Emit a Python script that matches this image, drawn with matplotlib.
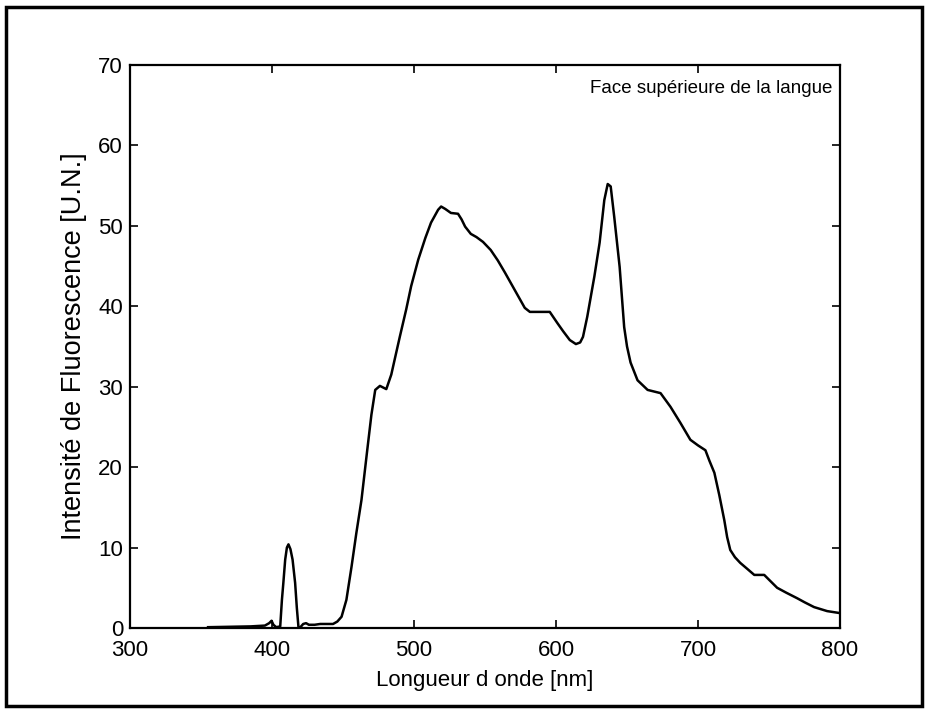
import matplotlib
matplotlib.use("Agg")
import matplotlib.pyplot as plt
from matplotlib.patches import Rectangle

# spectre
wavelength = [355, 370, 385, 395, 398, 399.7, 401, 403, 405.8, 407, 408, 409.3, 410.5, 411.6, 413,
              414.5, 416.3, 417.5, 418.7, 420, 422, 424, 426, 430, 434, 438, 443, 446, 449, 452.4,
              456, 459.4, 463, 467, 470, 472.7, 476, 480.5, 484, 486.8, 490, 494.5, 498, 503, 508,
              512, 517, 519.1, 522, 526, 531, 533.5, 536, 540, 544, 548.6, 554, 559, 564, 571, 578,
              581.6, 589, 595.6, 601, 605, 609.7, 614, 617, 619, 622, 627, 630.7, 634, 636.4, 638.5,
              641, 644.8, 648, 650, 652.5, 657.4, 664.5, 673.6, 680.6, 687.6, 694.6, 700, 705.2, 708,
              711.5, 715, 718.5, 720.5, 722.7, 726, 729.7, 735, 739.6, 746.6, 750, 755.7, 762, 769.8,
              775, 781.7, 790.9, 800]
intensity = [0.1, 0.15, 0.2, 0.3, 0.6, 0.9, 0.4, 0.1, 0.2, 3.5, 5.6, 8.5, 10.0, 10.4, 9.8,
             8.5, 5.6, 2.5, 0.0, 0.1, 0.5, 0.6, 0.4, 0.4, 0.5, 0.5, 0.5, 0.8, 1.4, 3.5,
             7.6, 11.8, 15.9, 22.0, 26.5, 29.6, 30.1, 29.7, 31.5, 33.7, 36.2, 39.6, 42.5, 45.8, 48.5,
             50.4, 52.0, 52.4, 52.1, 51.6, 51.5, 50.8, 49.9, 49.0, 48.6, 48.0, 47.0, 45.7, 44.2, 42.0,
             39.8, 39.3, 39.3, 39.3, 37.9, 36.9, 35.8, 35.3, 35.5, 36.2, 38.7, 43.7, 47.9, 53.2, 55.2,
             54.9, 51.1, 44.9, 37.4, 35.0, 33.0, 30.8, 29.6, 29.2, 27.5, 25.5, 23.4, 22.7, 22.1, 20.8,
             19.3, 16.5, 13.4, 11.3, 9.7, 8.8, 8.1, 7.3, 6.6, 6.6, 6.0, 5.0, 4.4, 3.7,
             3.2, 2.6, 2.1, 1.85]

x_ticks = [300, 400, 500, 600, 700, 800]
y_ticks = [0, 10, 20, 30, 40, 50, 60, 70]

plt.rcParams["font.family"] = ["Liberation Sans", "DejaVu Sans"]

fig = plt.figure(figsize=(9.27, 7.10), dpi=100)
ax = fig.add_axes([0.1402, 0.1155, 0.766, 0.793])

ax.plot(wavelength, intensity, color="black", linewidth=1.8)

ax.set_xlim(300, 800)
ax.set_ylim(0, 70)
ax.set_xticks(x_ticks)
ax.set_yticks(y_ticks)
ax.tick_params(direction="in", length=6, width=1.2, top=True, right=True,
               labelsize=16, colors="black")
ax.tick_params(axis="x", pad=9)
ax.tick_params(axis="y", pad=5)
for spine in ax.spines.values():
    spine.set_linewidth(1.6)

ax.set_xlabel("Longueur d onde [nm]", fontsize=16, labelpad=6)
ax.set_ylabel("Intensité de Fluorescence [U.N.]", fontsize=19.5, labelpad=8)
ax.text(624, 67.1, "Face supérieure de la langue", fontsize=13.5, ha="left", va="center")

# cadre extérieur
fig.patches.append(Rectangle((0.007, 0.006), 0.988, 0.984, transform=fig.transFigure,
                             fill=False, edgecolor="black", linewidth=2.5))

fig.savefig("out.png", dpi=100)
